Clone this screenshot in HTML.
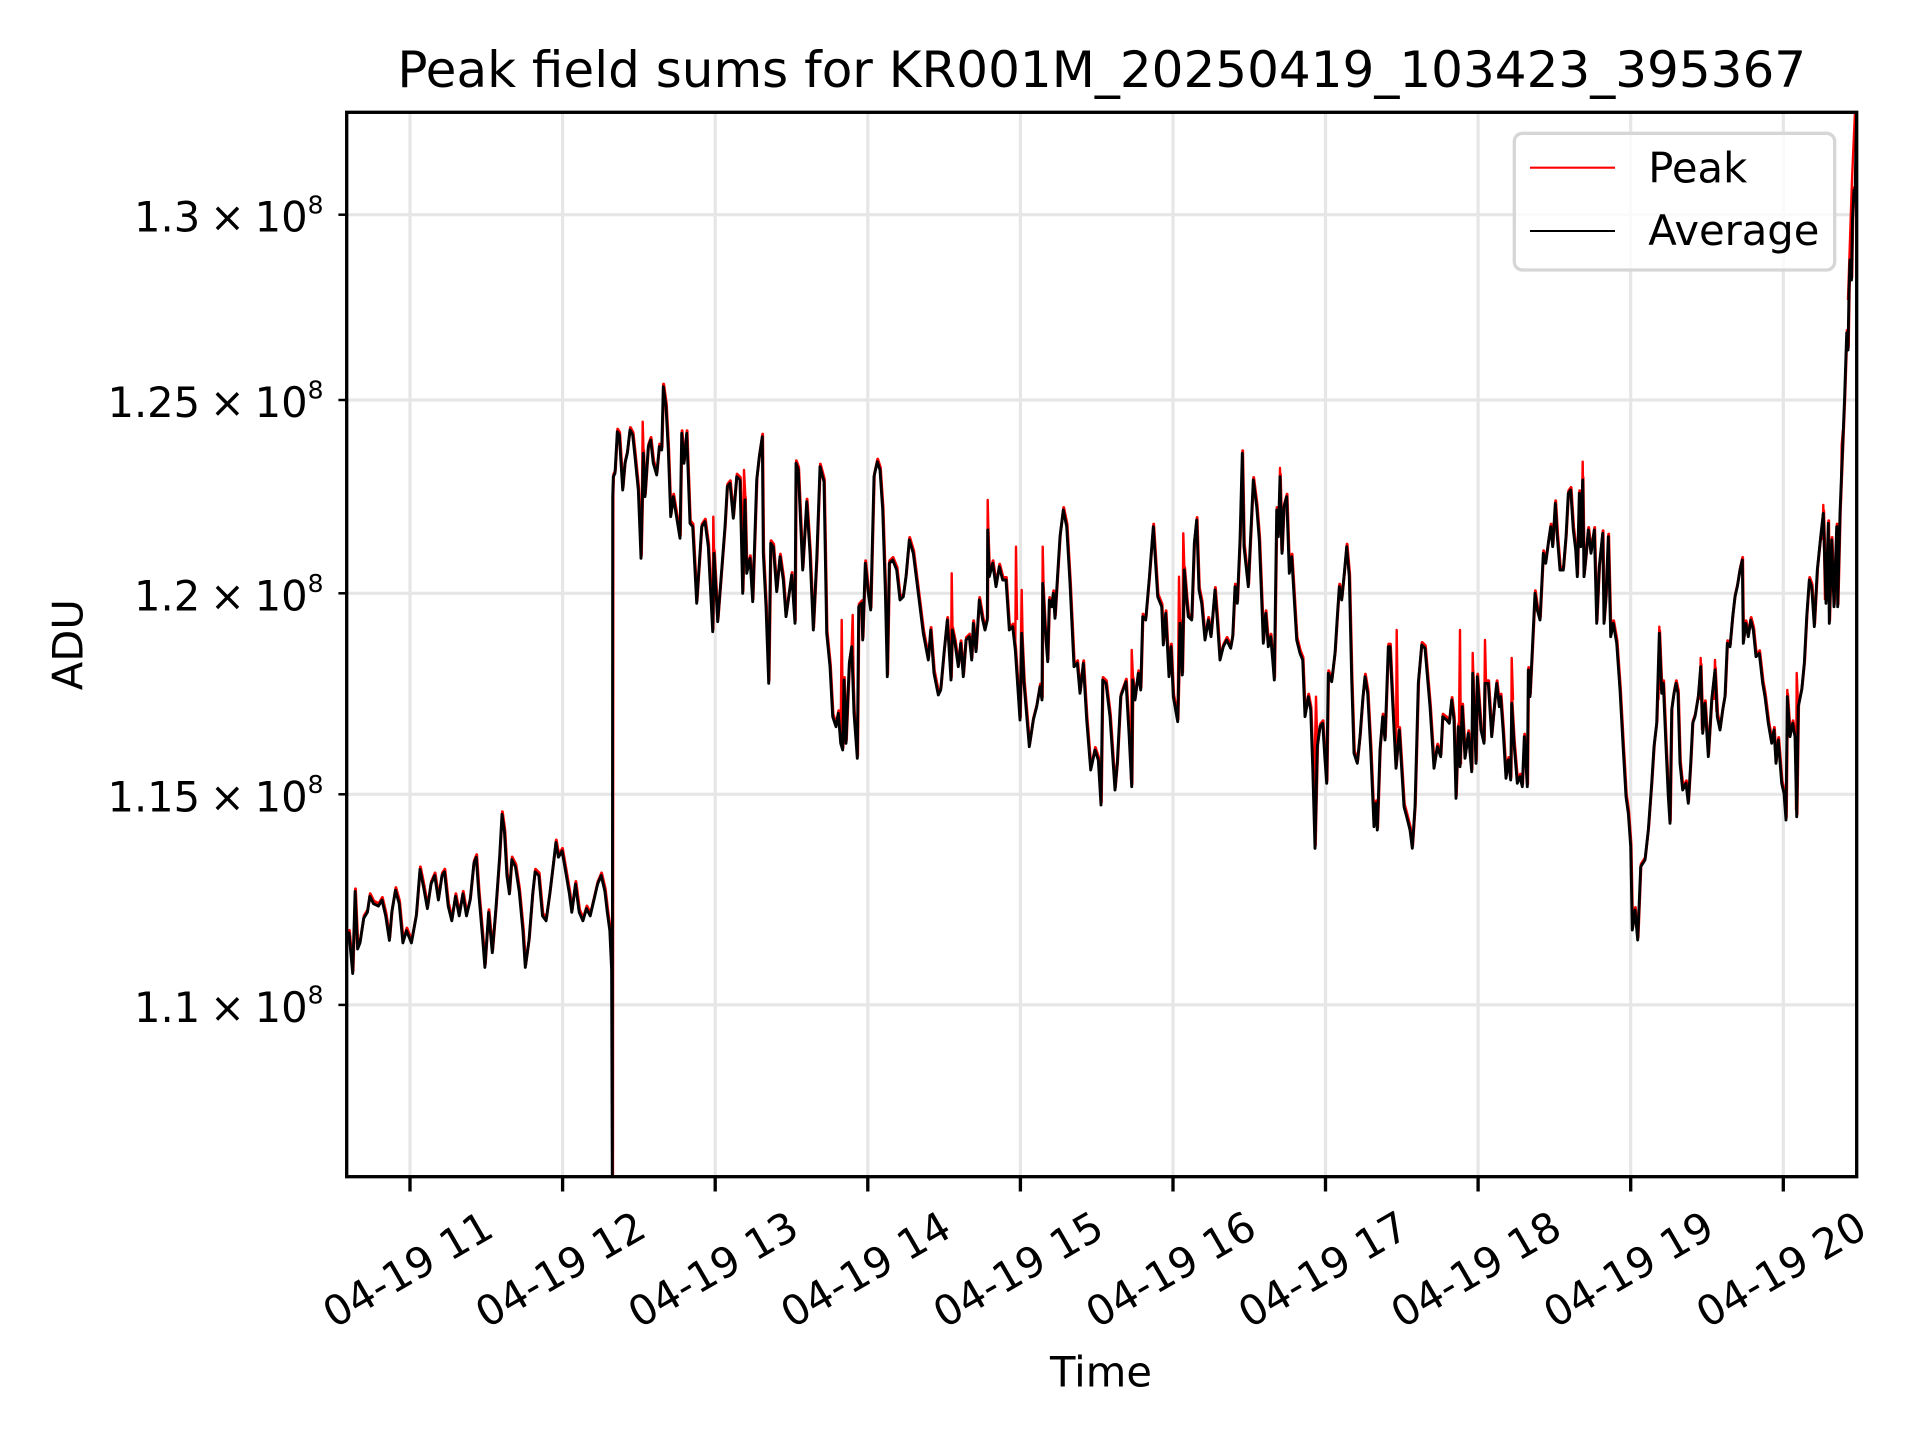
<!DOCTYPE html>
<html>
<head>
<meta charset="utf-8">
<style>
html,body{margin:0;padding:0;background:#ffffff;}
svg{display:block;}
</style>
</head>
<body>
<svg width="1920" height="1440" viewBox="0 0 1920 1440" xmlns="http://www.w3.org/2000/svg" font-family="'DejaVu Sans','Liberation Sans',sans-serif">
<rect x="0" y="0" width="1920" height="1440" fill="#ffffff"/>
<defs>
<clipPath id="ax"><rect x="346.7" y="112.3" width="1510" height="1064.4"/></clipPath>
<polyline id="avg" fill="none" stroke-linejoin="round" points="
346.5,936.7 349,933 352.7,973.5 355.1,891.4 357.6,949 360,942.9 363.7,918.4 367.4,912.3 369.8,896.3 373.5,903.7 378.4,906.1 382,900 385.7,915.9 389.4,940.4 391.8,912.3 395.5,890.2 399.2,903.7 402.9,942.9 406.5,930.6 411.4,942.9 416.3,915.9 420,869.4 423.7,887.8 427.4,908.6 431,884.1 434.7,875.5 438.4,900 442,875.5 444.5,871.8 448.2,906.1 451.8,920.8 455.5,896.3 459.2,915.9 462.9,893.9 466.5,915.9 470.2,900 473.9,863.3 476.3,857.2 478.8,893.9 482.5,936.7 484.9,967.4 488.6,912.3 492.3,952.7 495.9,908.6 499.6,857.2 502,814.3 504.5,832.7 506.9,875.5 509.4,893.9 511.8,859.6 515.5,866.9 519.2,891.4 522.9,930.6 525.3,967.4 529,940.4 532.7,893.9 535.1,871.8 538.8,875.5 542.5,915.9 546.1,920.8 549.8,893.9 553.5,863.3 555.9,842.5 558.4,857.2 562.1,851 565.7,871.8 569.4,893.9 571.8,912.3 575.5,884.1 579.2,912.3 582.9,920.8 586.5,908.6 590.2,915.9 593.9,900 597.6,884.1 601.2,875.5 604.9,891.4 607.3,912.3 609.8,930.6 611.6,969.8 612.3,1185
612.7,496.7 613.3,476.7 615,473.3 617.3,431.7 619.3,435 622.7,490 625,463.3 627.3,453.3 630,430 632.7,435 635,456.7 638.3,490 641,558.3 643.3,453.3 645,496.7 648.3,446.7 650.7,440 653.3,463.3 656.7,475 659.3,446.7 661.7,450 663.3,386.7 666,406.7 668.3,450 670.7,516.7 673.3,496.7 676,513.3 680,538.3 681.7,433.3 684,463.3 686.7,433.3 690,523.3 692.7,526.7 696.7,603.3 701.7,526.7 705,521.7 708.3,546.7 712.7,631.7 714,553.3 717.7,621.7
722.7,556.7 725,526.7 727.3,486.7 730,483.3 733.3,518.3 736.7,476.7 740,480 742.7,593.3 745,500 746.7,573.3 750,558.3 752.7,601.7 756.7,480 759.3,456.7 762.3,436.7 763.3,553.3 766,606.7 768.7,683.3 770.7,543.3 773.3,546.7 776.7,591.7 780,556.7 783.3,580 786,616.7 791.7,575 795,623.3 796,463.3 798.3,470 802.7,570 806.7,501.7 810,553.3 813.3,630 816.7,560 820,466.7 824,481.7 826.7,633.3 830,666.7 832.7,716.7 836,726.7 838.3,713.3 840.7,743.3 842.7,750 844,680 846,743.3 849.3,663.3 851.7,646.7 854,713.3 857.3,758.3 858.7,606.7 861.7,603.3 862.7,640 865.3,563.3 868.3,593.3 870.7,610 874,476.7 877.3,461.7 880,470 882.7,510 885.3,590 887.3,676.7 889.3,563.3 892.7,560 896.7,570 900,600 903.3,596.7 906,576.7 909.3,540 913.3,553.3 918.3,593.3 923.3,633.3 928.3,660 930.7,630 934,673.3 938.3,695 940.7,690 944,653.3 947.3,620 951,680 952.3,630 955,643.3 958.3,666.7 960.7,643.3 963.3,676.7 966,640 969.3,636.7 971.7,660 973.3,623.3 976,651.7 979.3,600 982.7,620 985,630 987.3,620 987.7,530 989.3,576.7 992.7,563.3 996,586.7 999.3,566.7 1002.7,580 1006,580 1009.3,630 1012.7,626.7 1015.3,650 1020,720 1021.7,633.3 1024,683.3 1029.3,746.7 1033.3,720 1036.7,706.7 1040,686.7 1042,700 1042.7,583.3 1045,626.7 1047.7,661.7 1049.3,600 1051.7,606.7 1053.3,593.3 1055,618.3 1057.3,580 1060,536.7 1063.3,510 1066.7,526.7 1070,583.3 1074,666.7 1077.3,663.3 1080,693.3 1083.3,663.3 1086.7,720 1090.7,770 1095,750 1098.3,760 1101,805
1102.7,680 1106,683.3 1110,716.7 1115,790 1117.3,763.3 1120.7,696.7 1126,681.7 1129,733.3 1131.7,786.7 1132.7,680 1135,700 1138.3,673.3 1140.7,690 1142.7,616.7 1145.7,620 1149.3,578.3 1153.3,526.7 1157.7,596.7 1161.7,606.7 1163.3,645 1165.7,613.3 1169,676.7 1171,646.7 1173.3,696.7 1177.7,721.7 1180,623.3 1182.3,675 1184.3,570 1186.7,600 1188.3,616.7 1191.7,620 1194.3,543.3 1196.7,520 1199,590 1201.7,603.3 1205,640 1208.3,620 1211,636.7 1215,590 1217.3,620 1220,660 1223.3,646.7 1226.7,640 1230.7,648.3 1232.7,636.7 1235,586.7 1237.3,603.3 1240,540 1242.3,453.3 1244,546.7 1248.3,586.7 1253.3,480 1256.7,506.7 1259.3,540 1261.7,600 1263.3,643.3 1265.7,613.3 1268.3,646.7 1270.7,636.7 1272.7,660 1274.3,680 1276.7,510 1278.3,536.7 1280,476.7 1282,553.3 1284,506.7 1286.7,496.7 1289.3,573.3 1291.7,556.7 1296.7,640 1300,653.3 1302.7,660 1305,716.7 1308.3,696.7 1310.7,710 1312.7,766.7 1315,848.3 1317.3,746.7 1320,726.7 1322.7,723.3 1325,760 1326.7,783.3 1328.3,673.3 1331.7,681.7 1335,653.3 1337.3,616.7 1339.3,586.7 1341.7,600 1344.3,573.3 1346.7,546.7 1349.3,576.7 1351.7,680 1354,753.3 1357.3,763.3 1360,736.7 1362.7,700 1365,676.7 1367.7,693.3 1370.7,750 1374,826.7 1376,803.3 1377.3,830 1380,750 1382.7,716.7 1385,740 1388.3,646.7 1390,646.7 1392.7,703.3 1396,768.3 1399.3,730 1404,806.7 1406.7,816.7 1410,830 1412.3,848.3 1415,806.7 1418.3,683.3 1421.7,645 1425,648.3 1430,706.7 1434,768.3 1437.3,746.7 1440.7,756.7 1442.7,716.7 1446.7,720 1449.3,723.3 1451.7,700 1454,720 1456,798.3 1458.3,726.7 1460,766.7 1462.3,706.7 1465,758.3 1468.3,733.3 1471.7,771.7 1472.7,673.3 1476,763.3 1477.3,676.7 1481,730 1484,743.3
1485,683.3 1488.3,683.3 1491.7,736.7 1495,700 1496.7,683.3 1499.3,706.7 1500.7,696.7 1503.3,733.3 1506,778.3 1508.3,760 1510.7,780 1511.7,703.3 1514,743.3 1517.3,783.3 1520,776.7 1522.3,786.7 1524.3,736.7 1527.3,786.7 1528.3,670 1530,696.7 1532.3,650 1535,593.3 1537.3,610 1540,620 1543.3,553.3 1545.7,563.3 1548.3,543.3 1550.7,526.7 1552.7,546.7 1555.3,503.3 1557.3,536.7 1560,570 1563.3,570 1566,536.7 1568.3,493.3 1570.7,490 1573.3,530 1575.7,550 1577.3,576.7 1579.3,493.3 1580.7,546.7 1582.7,480 1584,576.7 1586,556.7 1588.3,530 1591,553.3 1594.3,530 1596.7,623.3 1599.3,566.7 1602.7,533.3 1604,623.3 1606,596.7 1608.3,536.7 1610.7,636.7 1613.3,623.3 1616.7,643.3 1620,690 1623.3,750 1626,796.7 1628.3,813.3 1630.7,846.7 1632.3,930 1635,910 1637.7,940 1640.7,866.7 1645,860 1648.3,830 1651.7,783.3 1654,746.7 1656.7,723.3 1659.3,633.3 1661.7,693.3 1663.3,683.3 1666,746.7 1668.3,796.7 1670,823.3 1671.7,710 1674,693.3 1676,683.3 1678,693.3 1680,763.3 1682.7,790 1686,783.3 1688.3,803.3 1690.7,763.3 1692.7,723.3 1695,716.7 1698.3,696.7 1700.7,666.7 1702.7,733.3 1705,703.3 1708.3,756.7 1711.7,700 1715,670 1717.3,716.7 1720,730 1722.7,710 1725,696.7 1727.3,643.3 1730,646.7 1732.7,616.7 1735,596.7 1737.3,586.7 1740,570 1742.3,560 1743.3,643.3 1745.7,623.3 1748.3,636.7 1750.7,620 1753.3,630 1756,656.7 1759.3,653.3 1762.7,683.3 1765,696.7 1768.3,723.3 1771.7,743.3 1774,730 1776,763.3 1778.3,740 1781.7,783.3 1784,793.3 1786,820 1787.3,696.7 1790,736.7 1792.7,723.3 1795,736.7 1796.7,816.7 1798.3,706.7 1801.7,690 1804.3,663.3 1806.7,616.7 1809.3,580 1811.7,586.7 1814.3,626.7 1817.3,570 1820.7,536.7 1823.3,513.3 1826,603.3 1828.3,523.3 1829.3,623.3 1831.7,540 1834,606.7 1836.7,526.7 1837.7,606.7 1840,513.3 1841.7,470 1843.3,430
1844.5,400 1846.7,333 1848,350 1849,290 1850,260 1851.5,280 1852.5,220 1854,190 1855,200 1856,140 1857,105"/>
</defs>

<!-- grid -->
<g stroke="#e6e6e6" stroke-width="3.2" fill="none">
<line x1="410" y1="112.3" x2="410" y2="1176.7"/>
<line x1="562.6" y1="112.3" x2="562.6" y2="1176.7"/>
<line x1="715.2" y1="112.3" x2="715.2" y2="1176.7"/>
<line x1="867.8" y1="112.3" x2="867.8" y2="1176.7"/>
<line x1="1020.4" y1="112.3" x2="1020.4" y2="1176.7"/>
<line x1="1173" y1="112.3" x2="1173" y2="1176.7"/>
<line x1="1325.5" y1="112.3" x2="1325.5" y2="1176.7"/>
<line x1="1478.1" y1="112.3" x2="1478.1" y2="1176.7"/>
<line x1="1630.7" y1="112.3" x2="1630.7" y2="1176.7"/>
<line x1="1783.3" y1="112.3" x2="1783.3" y2="1176.7"/>
<line x1="346.7" y1="214.7" x2="1856.7" y2="214.7"/>
<line x1="346.7" y1="400" x2="1856.7" y2="400"/>
<line x1="346.7" y1="593.3" x2="1856.7" y2="593.3"/>
<line x1="346.7" y1="794.3" x2="1856.7" y2="794.3"/>
<line x1="346.7" y1="1004.9" x2="1856.7" y2="1004.9"/>
</g>

<!-- data -->
<g clip-path="url(#ax)">
<use href="#avg" stroke="#ff0000" stroke-width="2.9" transform="translate(0.4,-2.6)"/>
<g fill="none" stroke="#ff0000" stroke-width="2.4" stroke-linejoin="round">
<polyline points="663,400 663.3,384 665,405"/>
<polyline points="641.5,540 642.7,421.7 644,470"/>
<polyline points="712.7,625 713.3,516.7 714,553"/>
<polyline points="743,590 744,470 745.5,500"/>
<polyline points="840.7,735 841.7,620 843,735"/>
<polyline points="851.7,645 852.7,615 854,705"/>
<polyline points="951,675 951.7,573.3 952.5,630"/>
<polyline points="987.3,615 987.7,500 989,560"/>
<polyline points="1015.3,645 1016,546.7 1017,620"/>
<polyline points="1020,715 1021.7,590 1022.5,633"/>
<polyline points="1042,695 1042.7,546.7 1043.5,583"/>
<polyline points="1131,780 1131.7,650 1133,678"/>
<polyline points="1177.7,715 1179,576.7 1180,623"/>
<polyline points="1182.3,670 1183.3,533.3 1184.3,568"/>
<polyline points="1279,530 1280,468 1281.5,550"/>
<polyline points="1314,800 1316,696.7 1317.3,745"/>
<polyline points="1396,765 1396.7,630 1398,728"/>
<polyline points="1459,725 1460,630 1461,764"/>
<polyline points="1472,760 1472.7,653 1474,700"/>
<polyline points="1484,740 1485,640 1486,683"/>
<polyline points="1511,775 1511.7,658 1513,700"/>
<polyline points="1581.5,540 1582.7,461.7 1584,570"/>
<polyline points="1658.5,700 1659.3,626.7 1660.5,690"/>
<polyline points="1700,700 1700.7,658 1702,730"/>
<polyline points="1714,700 1715,660 1716.5,712"/>
<polyline points="1786,815 1787.3,690 1789,735"/>
<polyline points="1796,810 1796.7,673 1798,705"/>
<polyline points="1822.5,540 1823.3,505 1825,600"/>
<polyline points="1841,500 1841.7,445 1843,430"/>
<polyline points="1848,300 1852,180 1855,112"/>
</g>
<use href="#avg" stroke="#000000" stroke-width="2.9"/>
</g>

<!-- spines -->
<rect x="346.7" y="112.3" width="1510" height="1064.4" fill="none" stroke="#000000" stroke-width="3.33"/>

<!-- x ticks -->
<g stroke="#000000" stroke-width="3.33">
<line x1="410" y1="1176.7" x2="410" y2="1191.5"/>
<line x1="562.6" y1="1176.7" x2="562.6" y2="1191.5"/>
<line x1="715.2" y1="1176.7" x2="715.2" y2="1191.5"/>
<line x1="867.8" y1="1176.7" x2="867.8" y2="1191.5"/>
<line x1="1020.4" y1="1176.7" x2="1020.4" y2="1191.5"/>
<line x1="1173" y1="1176.7" x2="1173" y2="1191.5"/>
<line x1="1325.5" y1="1176.7" x2="1325.5" y2="1191.5"/>
<line x1="1478.1" y1="1176.7" x2="1478.1" y2="1191.5"/>
<line x1="1630.7" y1="1176.7" x2="1630.7" y2="1191.5"/>
<line x1="1783.3" y1="1176.7" x2="1783.3" y2="1191.5"/>
</g>
<!-- y ticks (minor) -->
<g stroke="#000000" stroke-width="2.5">
<line x1="338.4" y1="214.7" x2="346.7" y2="214.7"/>
<line x1="338.4" y1="400" x2="346.7" y2="400"/>
<line x1="338.4" y1="593.3" x2="346.7" y2="593.3"/>
<line x1="338.4" y1="794.3" x2="346.7" y2="794.3"/>
<line x1="338.4" y1="1004.9" x2="346.7" y2="1004.9"/>
</g>

<!-- x tick labels -->
<g font-size="41.67" fill="#000000" text-anchor="middle">
<text transform="translate(415,1282) rotate(-30)">04-19 11</text>
<text transform="translate(567.6,1282) rotate(-30)">04-19 12</text>
<text transform="translate(720.2,1282) rotate(-30)">04-19 13</text>
<text transform="translate(872.8,1282) rotate(-30)">04-19 14</text>
<text transform="translate(1025.4,1282) rotate(-30)">04-19 15</text>
<text transform="translate(1178,1282) rotate(-30)">04-19 16</text>
<text transform="translate(1330.5,1282) rotate(-30)">04-19 17</text>
<text transform="translate(1483.1,1282) rotate(-30)">04-19 18</text>
<text transform="translate(1635.7,1282) rotate(-30)">04-19 19</text>
<text transform="translate(1788.3,1282) rotate(-30)">04-19 20</text>
</g>

<!-- y tick labels -->
<g font-size="41.67" fill="#000000" text-anchor="end" word-spacing="-3.5">
<text x="323.5" y="231.7">1.3 × 10<tspan font-size="25" dy="-18.4">8</tspan></text>
<text x="323.5" y="417">1.25 × 10<tspan font-size="25" dy="-18.4">8</tspan></text>
<text x="323.5" y="610.3">1.2 × 10<tspan font-size="25" dy="-18.4">8</tspan></text>
<text x="323.5" y="811.3">1.15 × 10<tspan font-size="25" dy="-18.4">8</tspan></text>
<text x="323.5" y="1021.9">1.1 × 10<tspan font-size="25" dy="-18.4">8</tspan></text>
</g>

<!-- axis labels & title -->
<text x="1101" y="1386.7" font-size="41.67" text-anchor="middle" fill="#000000">Time</text>
<text transform="translate(82.5,644.7) rotate(-90)" font-size="41.67" text-anchor="middle" fill="#000000">ADU</text>
<text x="1101.7" y="87" font-size="50" text-anchor="middle" fill="#000000">Peak field sums for KR001M_20250419_103423_395367</text>

<!-- legend -->
<rect x="1514.3" y="133.3" width="320.4" height="136.7" rx="8.3" ry="8.3" fill="#ffffff" fill-opacity="0.8" stroke="#d6d6d6" stroke-width="3.33"/>
<line x1="1530" y1="167.7" x2="1615" y2="167.7" stroke="#ff0000" stroke-width="2.1"/>
<line x1="1530" y1="231" x2="1615" y2="231" stroke="#000000" stroke-width="2.1"/>
<text x="1648.3" y="182.7" font-size="41.67" fill="#000000">Peak</text>
<text x="1648.3" y="245" font-size="41.67" fill="#000000">Average</text>
</svg>
</body>
</html>
